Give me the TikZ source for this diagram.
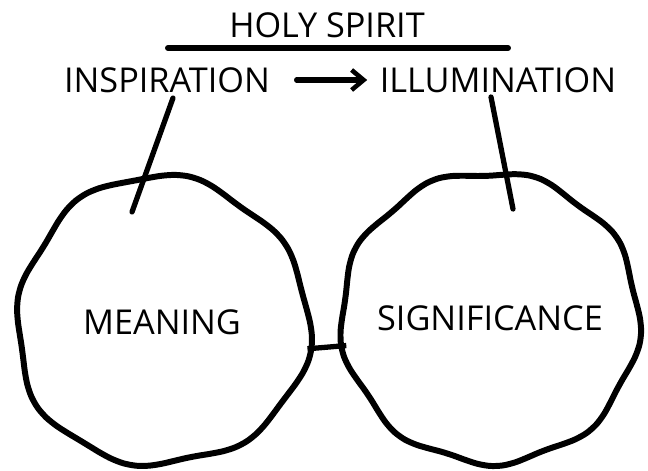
\documentclass[tikz,border=0pt]{standalone}
\usepackage{fontspec}
\setmainfont{Open Sans}
\usetikzlibrary{arrows.meta,positioning}

\begin{document}
\begin{tikzpicture}[
  x=0.02cm,y=-0.02cm,
  every node/.style={font=\fontsize{19.5}{23}\selectfont},
  word/.style={inner sep=1pt},
  blobnode/.style={circle,minimum size=5.7cm,inner sep=0pt},
  ink/.style={line width=3pt,line cap=round,line join=round},
  rim/.style={line width=3.4pt,line join=round},
  >={Straight Barb[length=2.4mm,width=4mm,line width=2.6pt]}
]
\useasboundingbox (0,0) rectangle (648,470);

\node[word] (holy) at (327,25) {HOLY SPIRIT};
\coordinate (barl) at (168,48);
\coordinate (barr) at (508,48);
\node[word] (insp) at (167,80) {INSPIRATION};
\node[word] (illu) at (498,80) {ILLUMINATION};
\node[blobnode] (meaning) at (162,322) {MEANING};
\node[blobnode] (signif) at (490,318) {SIGNIFICANCE};
\coordinate (mtip) at (132,212);
\coordinate (stip) at (513,209);

\draw[ink,line width=3.4pt] (barl) -- (barr);
\draw[ink,->] ([xshift=14pt]insp.east) -- ([xshift=-6pt]illu.west);
\draw[ink] (173,98) -- (mtip);
\draw[ink] (491,97) -- (stip);

% wobbly outlines
\draw[rim,shift={(meaning.center)}] plot[smooth cycle,domain=0:355,samples=72]
  ({(146+3*sin(8*\x)+3*sin(3*\x+40))*cos(\x)},{(144+3*sin(8*\x)+3*sin(3*\x+40))*sin(\x)});
\draw[rim,shift={(signif.center)}] plot[smooth cycle,domain=0:355,samples=72]
  ({(147+3*sin(9*\x+20)+2*sin(2*\x+70))*cos(\x)},{(147+3*sin(9*\x+20)+2*sin(2*\x+70))*sin(\x)});

\draw[ink,line cap=butt,shorten <=3pt,shorten >=2pt] (meaning.-11) -- (signif.191);
\end{tikzpicture}
\end{document}
